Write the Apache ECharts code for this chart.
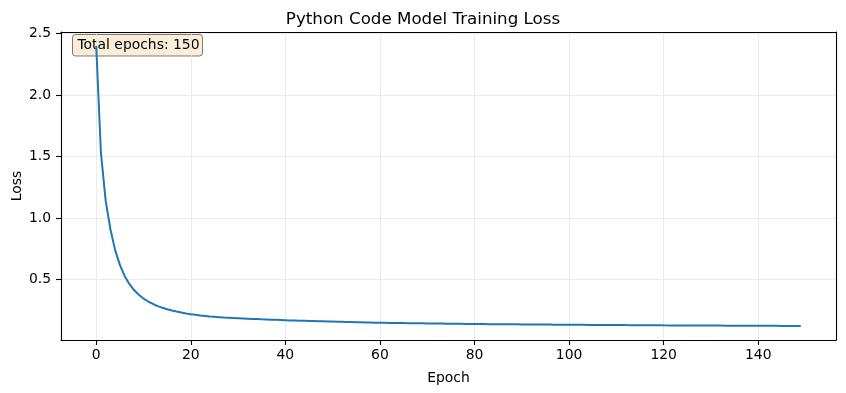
<!DOCTYPE html>
<html>
<head>
<meta charset="utf-8">
<script src="https://cdn.jsdelivr.net/npm/echarts@6/dist/echarts.min.js"></script>
<style>
html,body{margin:0;padding:0;background:#fff;}
#chart{width:846px;height:393px;}
</style>
</head>
<body>
<div id="chart"></div>
<script>
const titleText = "Python Code Model Training Loss";
const xLabel = "Epoch";
const yLabel = "Loss";
const boxText = "Total epochs: 150";
const xTicks = [0, 20, 40, 60, 80, 100, 120, 140];
const yTicks = [0.5, 1.0, 1.5, 2.0, 2.5];
const epochs = [];
for (let i = 0; i < 150; i++) epochs.push(i);
const loss = [
  2.40, 1.53, 1.14, 0.91, 0.74, 0.62, 0.53, 0.465, 0.415, 0.377,
  0.346, 0.322, 0.302, 0.285, 0.271, 0.259, 0.249, 0.240, 0.232, 0.225,
  0.219, 0.214, 0.209, 0.205, 0.201, 0.198, 0.195, 0.192, 0.190, 0.188,
  0.186, 0.184, 0.182, 0.180, 0.179, 0.177, 0.176, 0.174, 0.173, 0.172,
  0.170, 0.168, 0.167, 0.166, 0.165, 0.164, 0.163, 0.162, 0.161, 0.160,
  0.159, 0.158, 0.157, 0.156, 0.155, 0.154, 0.153, 0.152, 0.151, 0.150,
  0.149, 0.1485, 0.148, 0.1475, 0.147, 0.1465, 0.146, 0.1455, 0.145, 0.1445,
  0.144, 0.1435, 0.143, 0.1425, 0.142, 0.1415, 0.141, 0.1405, 0.140, 0.1395,
  0.139, 0.1387, 0.1384, 0.1381, 0.1378, 0.1375, 0.1372, 0.1369, 0.1366, 0.1363,
  0.136, 0.1357, 0.1354, 0.1351, 0.1348, 0.1345, 0.1342, 0.1339, 0.1336, 0.1333,
  0.133, 0.1328, 0.1325, 0.1323, 0.132, 0.1318, 0.1315, 0.1313, 0.131, 0.1308,
  0.1305, 0.1303, 0.130, 0.1298, 0.1295, 0.1293, 0.129, 0.1288, 0.1285, 0.1283,
  0.128, 0.1278, 0.1277, 0.1275, 0.1273, 0.1272, 0.127, 0.1268, 0.1267, 0.1265,
  0.1263, 0.1262, 0.126, 0.1258, 0.1257, 0.1255, 0.1253, 0.1252, 0.125, 0.1248,
  0.1247, 0.1245, 0.1243, 0.1242, 0.124, 0.1238, 0.1237, 0.1235, 0.1233, 0.1232
];

const FONT = "DejaVu Sans";
const chart = echarts.init(document.getElementById('chart'), null, {renderer: 'canvas'});
const gridLine = {show: true, lineStyle: {color: '#e6e6e6', width: 0.8}};
const spine = {show: true, onZero: false, lineStyle: {color: '#000', width: 1.1}};

chart.setOption({
  animation: false,
  backgroundColor: '#fff',
  title: {
    text: titleText, left: 'center', top: 6,
    textStyle: {fontFamily: FONT, fontSize: 16.7, fontWeight: 'normal', color: '#000'}
  },
  grid: {left: 61, right: 10, top: 32, bottom: 53, containLabel: false, outerBoundsMode: 'none'},
  xAxis: [{
    type: 'value', min: -7.45, max: 156.45,
    name: xLabel, nameLocation: 'middle', nameGap: 31, nameMoveOverlap: false,
    nameTextStyle: {fontFamily: FONT, fontSize: 13.9, color: '#000'},
    axisLine: spine,
    axisTick: {show: true, inside: false, length: 5, customValues: xTicks, lineStyle: {color: '#000', width: 1.1}},
    axisLabel: {show: true, customValues: xTicks, margin: 8, fontFamily: FONT, fontSize: 13.9, color: '#000'},
    splitLine: gridLine
  }, {
    type: 'value', position: 'top', min: -7.45, max: 156.45,
    axisLine: spine, axisTick: {show: false}, axisLabel: {show: false}, splitLine: {show: false}
  }],
  yAxis: [{
    type: 'value', min: 0.009, max: 2.514,
    name: yLabel, nameLocation: 'middle', nameGap: 37, nameRotate: 90, nameMoveOverlap: false,
    nameTextStyle: {fontFamily: FONT, fontSize: 13.9, color: '#000'},
    axisLine: spine,
    axisTick: {show: true, inside: false, length: 5, customValues: yTicks, lineStyle: {color: '#000', width: 1.1}},
    axisLabel: {show: true, customValues: yTicks, margin: 10, fontFamily: FONT, fontSize: 13.9, color: '#000',
      formatter: v => v.toFixed(1)},
    splitLine: gridLine
  }, {
    type: 'value', position: 'right', min: 0.009, max: 2.514,
    axisLine: spine, axisTick: {show: false}, axisLabel: {show: false}, splitLine: {show: false}
  }],
  series: [{
    type: 'line',
    xAxisIndex: 0, yAxisIndex: 0,
    data: epochs.map((e, i) => [e, loss[i]]),
    showSymbol: false,
    symbol: 'none',
    lineStyle: {color: '#1f77b4', width: 2},
    z: 3
  }],
  graphic: [{
    type: 'group', left: 72, top: 34, z: 100,
    children: [{
      type: 'rect',
      shape: {x: 0, y: 0, width: 130, height: 21.5, r: 3},
      style: {fill: 'rgba(245,222,179,0.5)', stroke: 'rgba(0,0,0,0.5)', lineWidth: 1}
    }, {
      type: 'text', x: 5, y: 10.75,
      style: {text: boxText, fontFamily: FONT, fontSize: 13.9, fill: '#000', verticalAlign: 'middle', align: 'left'}
    }]
  }]
});
</script>
</body>
</html>
